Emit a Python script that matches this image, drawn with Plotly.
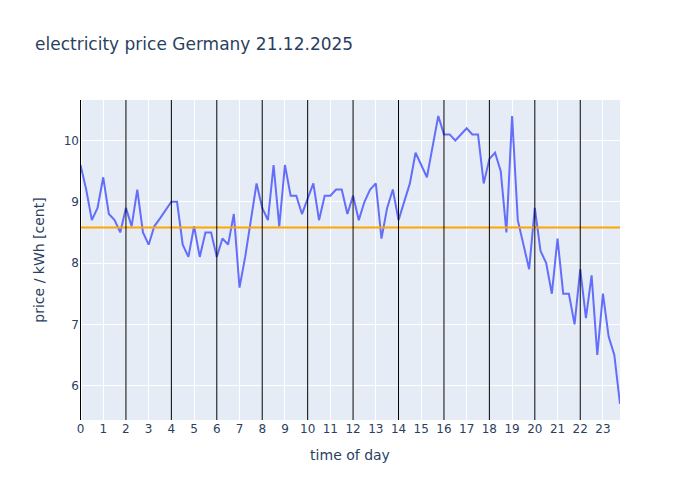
import plotly.graph_objects as go

hours = [i * 0.25 for i in range(96)]
prices = [
    9.60, 9.20, 8.70, 8.90, 9.40, 8.80, 8.70, 8.50,   # 0-1.75
    8.90, 8.60, 9.20, 8.50, 8.30, 8.60, 8.73, 8.87,   # 2-3.75
    9.00, 9.00, 8.30, 8.10, 8.60, 8.10, 8.50, 8.50,   # 4-5.75
    8.10, 8.40, 8.30, 8.80, 7.60, 8.10, 8.70, 9.30,   # 6-7.75
    8.90, 8.70, 9.60, 8.60, 9.60, 9.10, 9.10, 8.80,   # 8-9.75
    9.05, 9.30, 8.70, 9.10, 9.10, 9.20, 9.20, 8.80,   # 10-11.75
    9.10, 8.70, 9.00, 9.20, 9.30, 8.40, 8.90, 9.20,   # 12-13.75
    8.70, 9.00, 9.30, 9.80, 9.60, 9.40, 9.90, 10.40,  # 14-15.75
    10.10, 10.10, 10.00, 10.10, 10.20, 10.10, 10.10, 9.30,  # 16-17.75
    9.70, 9.80, 9.50, 8.50, 10.40, 8.70, 8.30, 7.90,  # 18-19.75
    8.90, 8.20, 8.00, 7.50, 8.40, 7.50, 7.50, 7.00,   # 20-21.75
    7.90, 7.10, 7.80, 6.50, 7.50, 6.80, 6.50, 5.70,   # 22-23.75
]
tick_vals = list(range(24))
tick_text = [str(h) for h in tick_vals]
vline_hours = list(range(0, 24, 2))
reference_price = 8.58

fig = go.Figure()
fig.add_trace(go.Scatter(x=hours, y=prices, mode="lines", line=dict(color="#636efa", width=2)))
fig.add_hline(y=reference_price, line=dict(color="orange", width=2))
for h in vline_hours:
    fig.add_vline(x=h, line=dict(color="black", width=1))

fig.update_layout(
    title=dict(text="electricity price Germany 21.12.2025"),
    font=dict(family="Verdana, DejaVu Sans, sans-serif"),
    width=700, height=500,
    showlegend=False,
    xaxis=dict(title=dict(text="time of day"), tickvals=tick_vals, ticktext=tick_text),
    yaxis=dict(title=dict(text="price / kWh [cent]")),
)
fig.write_html("out.html")
